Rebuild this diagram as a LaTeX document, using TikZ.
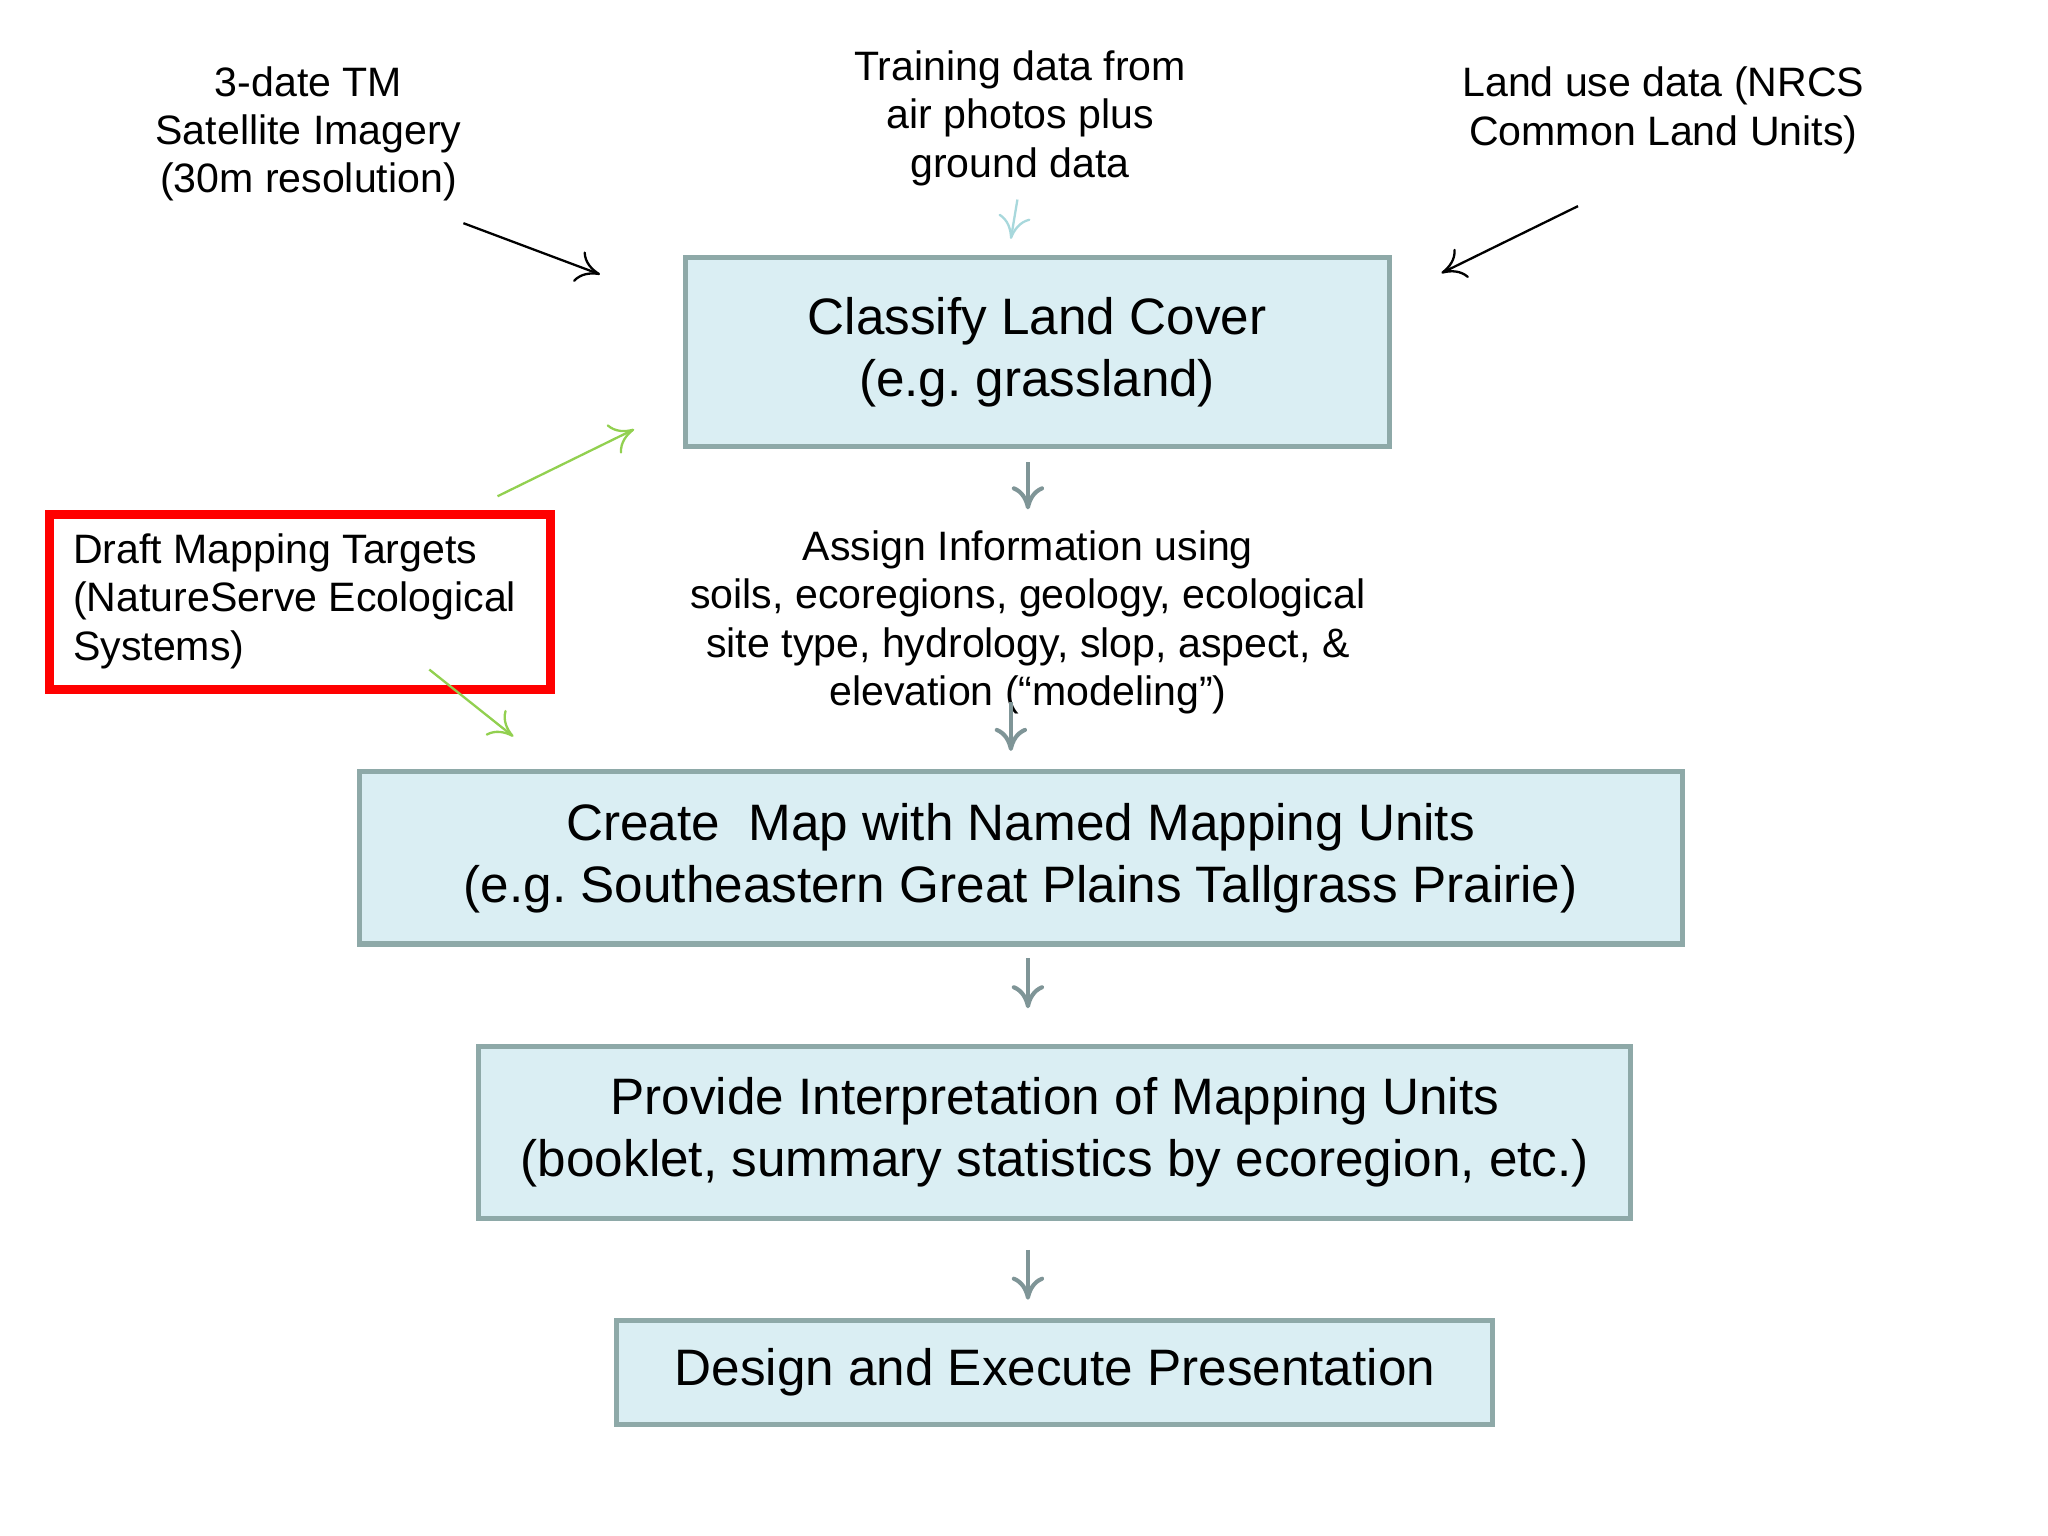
\documentclass[tikz,border=0pt]{standalone}
\usepackage{fontspec}
\setmainfont{Liberation Sans}
\frenchspacing
\begin{document}
\begin{tikzpicture}[x=0.01cm,y=-0.01cm,
  box/.style={draw=boxline,fill=boxfill,line width=1.1pt,inner sep=0pt,font=\fontsize{11.1}{13.4}\selectfont,align=center},
  small/.style={font=\fontsize{8.9}{10.45}\selectfont,align=center,inner sep=0pt},
  arr/.style={->,line width=0.5pt,>={To[length=5pt,width=7pt]}},
  gar/.style={->,line width=0.9pt,draw=arrgray,>={To[length=5pt,width=7pt]}}]
\usetikzlibrary{arrows.meta}
\definecolor{boxfill}{HTML}{DAEEF3}
\definecolor{boxline}{HTML}{8EA9A8}
\definecolor{arrgray}{HTML}{7F9597}
\definecolor{grn}{HTML}{92D050}
\definecolor{lb}{HTML}{A8D8DC}
\useasboundingbox (0,0) rectangle (1560,1170);
\node[box,minimum width=5.36cm,minimum height=1.44cm] (cl) at (790,268) {Classify Land Cover\\(e.g. grassland)};
\node[box,minimum width=10.07cm,minimum height=1.31cm] (cr) at (777.5,653.5) {Create\ \ Map with Named Mapping Units\\(e.g. Southeastern Great Plains Tallgrass Prairie)};
\node[box,minimum width=8.77cm,minimum height=1.31cm] (pr) at (803.5,862.5) {Provide Interpretation of Mapping Units\\(booklet, summary statistics by ecoregion, etc.)};
\node[box,minimum width=6.67cm,minimum height=0.79cm] (de) at (803.5,1045.5) {Design and Execute Presentation};
\node[small] (tm) at (235,102) {3-date TM\\Satellite Imagery\\(30m resolution)};
\node[small] (tr) at (777,90) {Training data from\\air photos plus\\ground data};
\node[small] (lu) at (1267,84) {Land use data (NRCS\\Common Land Units)};
\node[small] (as) at (783,474) {Assign Information using\\soils, ecoregions, geology, ecological\\site type, hydrology, slop, aspect, \&\\elevation (“modeling”)};
\node[draw=red,line width=1.9pt,minimum width=3.81cm,minimum height=1.33cm,inner sep=0pt] (dr) at (228.5,458.5) {};
\node[small,align=left,anchor=north west] (drt) at (55,406) {Draft Mapping Targets\\(NatureServe Ecological\\Systems)};
\coordinate (a1s) at (353,170); \coordinate (a1e) at (457,209);
\coordinate (a2s) at (1202,157); \coordinate (a2e) at (1098,208);
\coordinate (a3s) at (775,152); \coordinate (a3e) at (770,182);
\coordinate (g1s) at (379,378); \coordinate (g1e) at (483,327);
\coordinate (g2s) at (327,510); \coordinate (g2e) at (391,561);
\draw[arr] (a1s) -- (a1e);
\draw[arr] (a2s) -- (a2e);
\draw[arr,draw=lb] (a3s) -- (a3e);
\draw[arr,draw=grn] (g1s) -- (g1e);
\draw[arr,draw=grn] (g2s) -- (g2e);
\draw[gar] (783,352) -- (783,388);
\draw[gar] (770,535) -- (770,572);
\draw[gar] (783,730) -- (783,768);
\draw[gar] (783,952) -- (783,990);
\end{tikzpicture}
\end{document}
